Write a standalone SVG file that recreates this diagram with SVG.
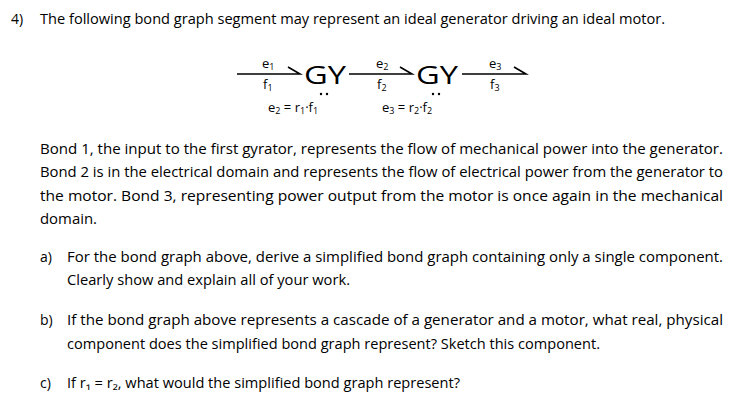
<svg xmlns="http://www.w3.org/2000/svg" width="746" height="420" viewBox="0 0 746 420">
<style>
text{font-family:"Open Sans","Liberation Sans",sans-serif;fill:#000}
.b{font-size:14px}
.s{font-size:13px}
.g{font-size:26px}
.sub{font-size:9px}
.bond{stroke:#000;stroke-width:1.6;fill:none}
</style>
<rect width="746" height="420" fill="#fff"/>
<text class="b" x="11" y="24">4)</text>
<text class="b" x="40" y="24" textLength="625" lengthAdjust="spacingAndGlyphs">The following bond graph segment may represent an ideal generator driving an ideal motor.</text>
<g id="connectors">
<path class="bond" d="M237 74H300L288 67"/>
<path class="bond" d="M349 74H412L400 67"/>
<path class="bond" d="M462 74H526L514 67"/>
</g>
<g id="bond1"><text class="s" x="262" y="68">e<tspan class="sub" dy="2">1</tspan></text><text class="s" x="263" y="89">f<tspan class="sub" dy="2">1</tspan></text></g>
<g id="gy1"><text class="g" x="304" y="84" textLength="42" lengthAdjust="spacingAndGlyphs">GY</text><circle cx="321" cy="94" r="1.2"/><circle cx="327" cy="94" r="1.2"/><text class="s" x="268" y="112">e<tspan class="sub" dy="2">2</tspan><tspan dy="-2"> = r</tspan><tspan class="sub" dy="2">1</tspan><tspan dy="-2">·f</tspan><tspan class="sub" dy="2">1</tspan></text></g>
<g id="bond2"><text class="s" x="376" y="68">e<tspan class="sub" dy="2">2</tspan></text><text class="s" x="377" y="89">f<tspan class="sub" dy="2">2</tspan></text></g>
<g id="gy2"><text class="g" x="416" y="84" textLength="42" lengthAdjust="spacingAndGlyphs">GY</text><circle cx="433" cy="94" r="1.2"/><circle cx="439" cy="94" r="1.2"/><text class="s" x="382" y="112">e<tspan class="sub" dy="2">3</tspan><tspan dy="-2"> = r</tspan><tspan class="sub" dy="2">2</tspan><tspan dy="-2">·f</tspan><tspan class="sub" dy="2">2</tspan></text></g>
<g id="bond3"><text class="s" x="489" y="68">e<tspan class="sub" dy="2">3</tspan></text><text class="s" x="490" y="89">f<tspan class="sub" dy="2">3</tspan></text></g>
<text class="b" x="40" y="154" textLength="683" lengthAdjust="spacingAndGlyphs">Bond 1, the input to the first gyrator, represents the flow of mechanical power into the generator.</text>
<text class="b" x="40" y="177" textLength="683" lengthAdjust="spacingAndGlyphs">Bond 2 is in the electrical domain and represents the flow of electrical power from the generator to</text>
<text class="b" x="40" y="201" textLength="683" lengthAdjust="spacingAndGlyphs">the motor. Bond 3, representing power output from the motor is once again in the mechanical</text>
<text class="b" x="40" y="224" textLength="57" lengthAdjust="spacingAndGlyphs">domain.</text>
<text class="b" x="40" y="262">a)</text>
<text class="b" x="67" y="262" textLength="656" lengthAdjust="spacingAndGlyphs">For the bond graph above, derive a simplified bond graph containing only a single component.</text>
<text class="b" x="67" y="285" textLength="283" lengthAdjust="spacingAndGlyphs">Clearly show and explain all of your work.</text>
<text class="b" x="40" y="325">b)</text>
<text class="b" x="67" y="325" textLength="656" lengthAdjust="spacingAndGlyphs">If the bond graph above represents a cascade of a generator and a motor, what real, physical</text>
<text class="b" x="67" y="349" textLength="533" lengthAdjust="spacingAndGlyphs">component does the simplified bond graph represent? Sketch this component.</text>
<text class="b" x="40" y="388">c)</text>
<text class="b" x="67" y="388" textLength="393" lengthAdjust="spacingAndGlyphs">If r₁ = r₂, what would the simplified bond graph represent?</text>
</svg>
